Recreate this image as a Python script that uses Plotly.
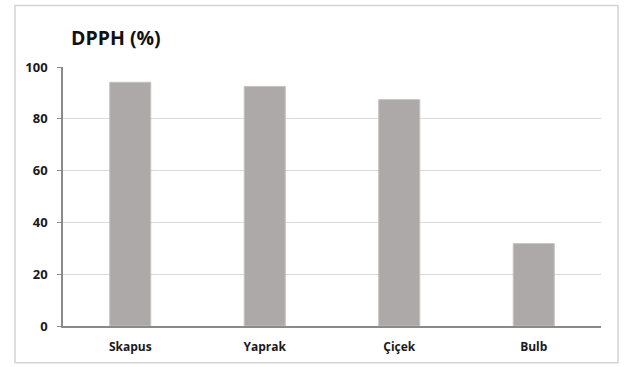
import plotly.graph_objects as go

categories = ["Skapus", "Yaprak", "Çiçek", "Bulb"]
values = [94.1, 92.5, 87.4, 31.8]
y_ticks = [0, 20, 40, 60, 80, 100]

W, H = 636, 367
L, R, T, B = 63, 35, 67, 39
pw, ph = W - L - R, H - T - B

fig = go.Figure(go.Bar(
    x=categories, y=values,
    marker=dict(color="#ADA9A8", line=dict(color="#C4C1C0", width=1)),
    width=0.305,
))

def px_x(x):
    return (x - L) / pw

def px_y(y):
    return (H - B - y) / ph

fig.update_layout(
    width=W, height=H,
    margin=dict(l=L, r=R, t=T, b=B),
    paper_bgcolor="white", plot_bgcolor="white",
    font=dict(family="Open Sans", color="#1a1a1a"),
    showlegend=False,
    title=dict(text="DPPH (%)", x=71 / W, xanchor="left", xref="container",
               y=1 - 38 / H, yanchor="middle", yref="container",
               font=dict(size=19.5, color="#111111", weight="bold")),
    xaxis=dict(showline=True, linecolor="#8a8a8a", linewidth=1.5,
               tickfont=dict(size=12, weight="bold"), ticks="", showgrid=False,
               range=[-0.5, 3.5], ticklabelstandoff=9),
    yaxis=dict(range=[0, 100], tickvals=y_ticks, showline=True, linecolor="#8a8a8a",
               linewidth=1.5, ticks="outside", ticklen=4, tickcolor="#8a8a8a",
               gridcolor="#d9d9d9", gridwidth=1.2,
               tickfont=dict(size=13, weight="bold"),
               zeroline=False, ticklabelstandoff=7),
    shapes=[dict(type="rect", xref="paper", yref="paper",
                 x0=px_x(15), x1=px_x(618), y0=px_y(365), y1=px_y(5),
                 line=dict(color="#d4d4d4", width=1.5), layer="below")],
)

fig.write_html("out.html")
